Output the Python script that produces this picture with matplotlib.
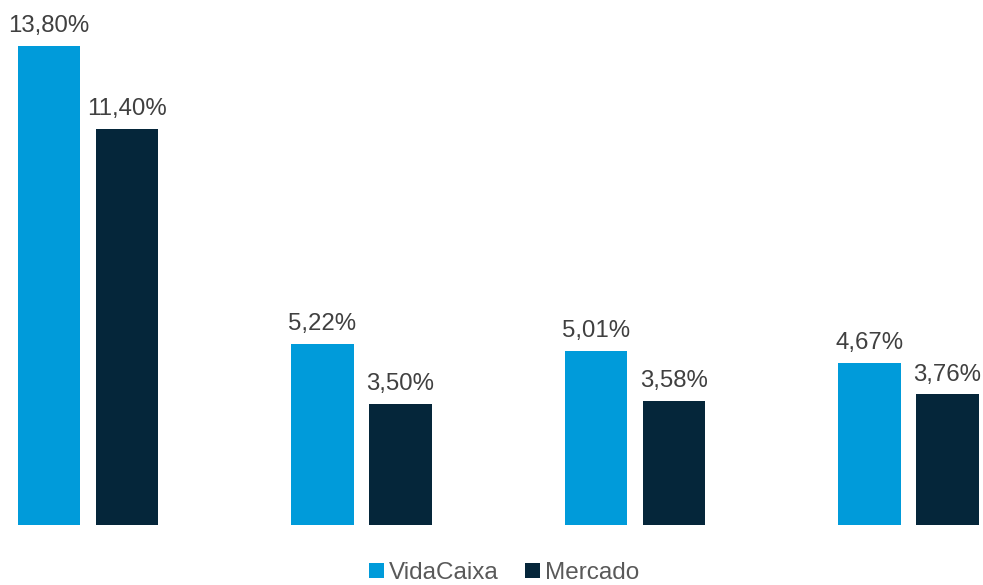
import matplotlib.pyplot as plt
import numpy as np

plt.rcParams['font.family'] = ['Liberation Sans', 'DejaVu Sans']

categories = ['G1', 'G2', 'G3', 'G4']
vidacaixa = [13.80, 5.22, 5.01, 4.67]
mercado = [11.40, 3.50, 3.58, 3.76]
series_names = ['VidaCaixa', 'Mercado']
colors = ['#009BDA', '#05263A']

fig = plt.figure(figsize=(9.83, 5.85), dpi=100)
ax = fig.add_axes([0, 60 / 585, 1, 520 / 585])

x = np.arange(len(categories))
w = 0.2267
off = 0.1426
b1 = ax.bar(x - off, vidacaixa, w, color=colors[0], label=series_names[0])
b2 = ax.bar(x + off, mercado, w, color=colors[1], label=series_names[1])

for bars, vals in ((b1, vidacaixa), (b2, mercado)):
    for b, v in zip(bars, vals):
        ax.annotate(f'{v:.2f}%'.replace('.', ','),
                    (b.get_x() + b.get_width() / 2, v),
                    xytext=(0, 10), textcoords='offset points',
                    ha='center', va='baseline', fontsize=17.3, color='#404040')

ax.set_xlim(-88 / 273.5, 895 / 273.5)
ax.set_ylim(0, 520 / 34.71)
ax.axis('off')

leg = fig.legend(handles=[b1, b2], loc='center', bbox_to_anchor=(0.513, 12 / 585),
                 ncol=2, frameon=False, fontsize=17.5, handlelength=0.6,
                 handleheight=0.6, handletextpad=0.2, columnspacing=1.1,
                 borderpad=0.1)
for t in leg.get_texts():
    t.set_color('#595959')

fig.savefig('out.png', dpi=100)
